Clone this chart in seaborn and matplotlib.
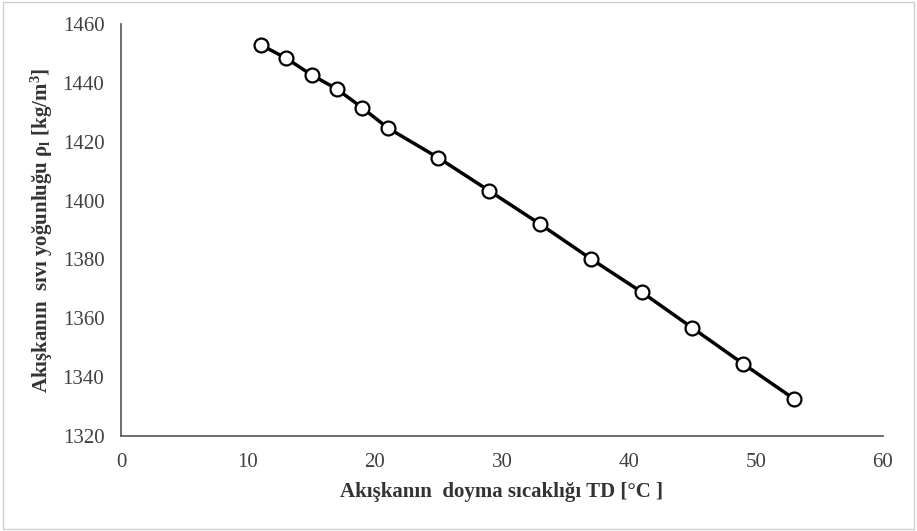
import matplotlib
matplotlib.use("Agg")
import matplotlib.pyplot as plt
import seaborn as sns
import pandas as pd
from matplotlib.patches import Rectangle

temperature_c = [11, 13, 15, 17, 19, 21, 25, 29, 33, 37, 41, 45, 49, 53]
density = [1452.9, 1448.4, 1442.7, 1437.9, 1431.5, 1424.7, 1414.5, 1403.3,
           1392.0, 1380.2, 1368.9, 1356.7, 1344.5, 1332.6]
x_ticks = [0, 10, 20, 30, 40, 50, 60]
y_ticks = [1320, 1340, 1360, 1380, 1400, 1420, 1440, 1460]

sns.set_style("white")
plt.rcParams['font.family'] = ['Liberation Serif', 'DejaVu Serif']
plt.rcParams['mathtext.fontset'] = 'custom'
plt.rcParams['mathtext.rm'] = 'Liberation Serif:bold'
plt.rcParams['mathtext.it'] = 'Liberation Serif:bold'
plt.rcParams['mathtext.bf'] = 'Liberation Serif:bold'

df = pd.DataFrame({"T": temperature_c, "rho": density})

fig = plt.figure(figsize=(9.17, 5.31), dpi=100)
ax = fig.add_axes([121 / 917, (531 - 436) / 531, (883 - 121) / 917, (436 - 24) / 531])

sns.lineplot(data=df, x="T", y="rho", ax=ax, color="black", linewidth=2.5,
             marker="o", markersize=10, markerfacecolor="white",
             markeredgecolor="black", markeredgewidth=1.6)

ax.set_xlim(0, 60)
ax.set_ylim(1320, 1460)
ax.set_xticks(x_ticks)
ax.set_yticks(y_ticks)
ax.tick_params(axis='both', length=0, labelsize=15, colors="#404040")
ax.tick_params(axis='y', pad=12)
ax.tick_params(axis='x', pad=12)
for side in ["top", "right"]:
    ax.spines[side].set_visible(False)
for side in ["left", "bottom"]:
    ax.spines[side].set_color("#555555")
    ax.spines[side].set_linewidth(1.2)

ax.set_xlabel("Akışkanın  doyma sıcaklığı TD [°C ]", fontsize=15, fontweight="bold",
              color="#333333")
ax.set_ylabel(r"Akışkanın  sıvı yoğunluğu $\rho_l$ [kg/m$^3$]", fontsize=15,
              fontweight="bold", color="#333333")
ax.xaxis.set_label_coords(0.5, -46 / 412, transform=ax.transAxes)
ax.yaxis.set_label_coords(-66 / 762, 0.5, transform=ax.transAxes)

fig.patches.append(Rectangle((0.003, 0.004), 0.994, 0.992, transform=fig.transFigure,
                             fill=False, edgecolor="#d0d0d0", linewidth=1))

fig.savefig("out.png", dpi=100, facecolor="white")
